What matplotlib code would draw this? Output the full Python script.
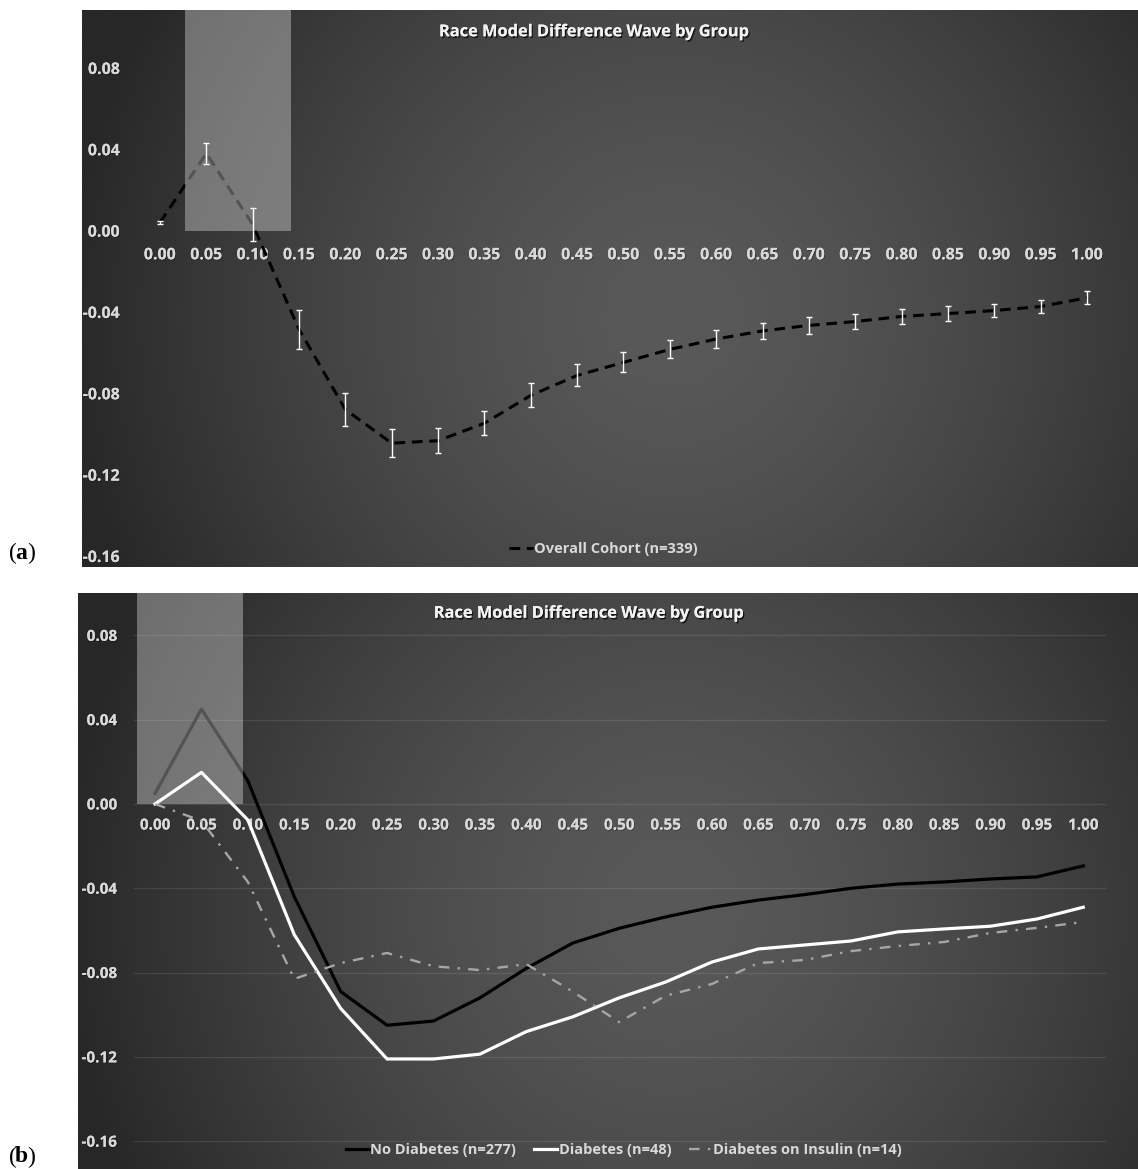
import numpy as np
import matplotlib
matplotlib.use("Agg")
import matplotlib.pyplot as plt
import matplotlib.patheffects as pe
from matplotlib.patches import Rectangle

plt.rcParams['font.family'] = ['Open Sans', 'DejaVu Sans']

# quantile positions (category axis)
quantiles = [0.00, 0.05, 0.10, 0.15, 0.20, 0.25, 0.30, 0.35, 0.40, 0.45, 0.50,
             0.55, 0.60, 0.65, 0.70, 0.75, 0.80, 0.85, 0.90, 0.95, 1.00]
xlabels = ['%.2f' % q for q in quantiles]
yticks = [-0.16, -0.12, -0.08, -0.04, 0.00, 0.04, 0.08]

# panel (a) overall cohort
overall = [0.004, 0.038, 0.003, -0.0485, -0.088, -0.1045, -0.1033, -0.0947, -0.081, -0.0712, -0.0648,
           -0.0584, -0.0533, -0.0493, -0.0466, -0.0447, -0.0422, -0.0408, -0.0393, -0.0373, -0.033]
overall_err = [0.0005, 0.005, 0.0083, 0.0096, 0.0083, 0.0069, 0.0061, 0.0059, 0.0059, 0.0054, 0.0049,
               0.0044, 0.0042, 0.004, 0.0041, 0.0038, 0.0037, 0.0037, 0.0033, 0.0033, 0.0033]

# panel (b) by group
no_diab = [0.005, 0.045, 0.011, -0.044, -0.089, -0.105, -0.103, -0.092, -0.078, -0.066, -0.059,
           -0.0536, -0.049, -0.0456, -0.043, -0.040, -0.038, -0.037, -0.0356, -0.0346, -0.0294]
diab = [0.000, 0.015, -0.0076, -0.062, -0.097, -0.121, -0.121, -0.1187, -0.108, -0.101, -0.092,
        -0.0845, -0.075, -0.0688, -0.0669, -0.065, -0.0607, -0.0593, -0.058, -0.0546, -0.049]
insulin = [0.000, -0.008, -0.037, -0.083, -0.0755, -0.0707, -0.077, -0.0788, -0.076, -0.089, -0.1035,
           -0.091, -0.0854, -0.0755, -0.074, -0.0698, -0.0674, -0.0655, -0.0612, -0.0588, -0.056]

title = "Race Model Difference Wave by Group"
label_col = '#d9d9d9'
shadow = [pe.withSimplePatchShadow(offset=(1, -1.2), shadow_rgbFace='black', alpha=0.7), pe.Normal()]


def background(ax):
    # radial-ish grey gradient like the excel chart style
    nx, ny = 400, 300
    xx, yy = np.meshgrid(np.linspace(0, 1, nx), np.linspace(0, 1, ny))
    r = np.sqrt(((xx - 0.56) / 0.58) ** 2 + ((yy - 0.45) / 1.1) ** 2)
    r = np.clip(r, 0, 1)
    v = (0x59 - (0x59 - 0x27) * r ** 1.5) / 255.0
    img = np.dstack([v, v, v])
    ax.imshow(img, extent=(0, 1, 0, 1), transform=ax.transAxes, origin='lower',
              aspect='auto', zorder=0, interpolation='bilinear')


def style_axes(ax, xlim, ylim, label_size, ylab_pos, xpad):
    background(ax)
    ax.set_xlim(*xlim)
    ax.set_ylim(*ylim)
    for s in ax.spines.values():
        s.set_color('none')
    ax.spines['bottom'].set_position(('data', 0))
    ax.spines['left'].set_position(('axes', ylab_pos))
    ax.set_xticks(quantiles)
    ax.set_xticklabels(xlabels)
    ax.set_yticks(yticks)
    ax.set_yticklabels(['%.2f' % t for t in yticks])
    ax.tick_params(axis='x', length=0, pad=xpad, labelsize=label_size, labelcolor=label_col)
    ax.tick_params(axis='y', length=0, pad=0, labelsize=label_size, labelcolor=label_col)
    for t in ax.get_xticklabels() + ax.get_yticklabels():
        t.set_fontweight('bold')
        t.set_path_effects([pe.withSimplePatchShadow(offset=(0.6, -0.6), shadow_rgbFace='black', alpha=0.4), pe.Normal()])


fig = plt.figure(figsize=(11.38, 11.69), dpi=100)
fig.patch.set_facecolor('white')

# ---- panel a
ax1 = fig.add_axes([82 / 1138, 1 - 567 / 1169, 1056 / 1138, 557 / 1169])
style_axes(ax1, (-0.0841, 1.055), (-0.1654, 0.1085), 11.5, 38 / 1056, 12)
ax1.plot(quantiles, overall, color='black', lw=2.2, dashes=(3.5, 2.2), dash_capstyle='butt',
         zorder=3, label='Overall Cohort (n=339)')
ax1.errorbar(quantiles, overall, yerr=overall_err, fmt='none', ecolor='white', elinewidth=1,
             capsize=2.2, capthick=1, zorder=6)
hl_a = (0.027, 0.141)
ax1.add_patch(Rectangle((hl_a[0], 0), hl_a[1] - hl_a[0], 0.12, facecolor='white', alpha=0.33,
                        edgecolor='none', zorder=5))
ax1.text(0.485, 0.96, title, transform=ax1.transAxes, ha='center', va='center', fontsize=11.8,
         fontweight='bold', color='#f2f2f2', path_effects=shadow)
leg1 = ax1.legend(loc='center', bbox_to_anchor=(0.494, 0.032), frameon=False, handlelength=1.6,
                  handletextpad=0.1, fontsize=10.5)
for t in leg1.get_texts():
    t.set_color(label_col)
    t.set_fontweight('bold')

# ---- panel b
ax2 = fig.add_axes([78 / 1138, 0, 1060 / 1138, 576 / 1169])
style_axes(ax2, (-0.083, 1.059), (-0.1732, 0.1001), 11, 39 / 1060, 10.5)
ax2.hlines(yticks, -0.024, 1.024, color='white', alpha=0.1, lw=0.9, zorder=1)
ax2.plot(quantiles, no_diab, color='black', lw=2.3, zorder=3, label='No Diabetes (n=277)')
ax2.plot(quantiles, diab, color='white', lw=2.3, zorder=3, label='Diabetes (n=48)')
ax2.plot(quantiles, insulin, color='#a6a6a6', lw=1.7, dashes=(4.5, 3.5, 1, 3.5), zorder=3,
         label='Diabetes on Insulin (n=14)')
hl_b = (-0.019, 0.095)
ax2.add_patch(Rectangle((hl_b[0], 0), hl_b[1] - hl_b[0], 0.12, facecolor='white', alpha=0.33,
                        edgecolor='none', zorder=5))
ax2.text(0.482, 0.964, title, transform=ax2.transAxes, ha='center', va='center', fontsize=11.8,
         fontweight='bold', color='#f2f2f2', path_effects=shadow)
leg2 = ax2.legend(loc='center', bbox_to_anchor=(0.515, 0.033), frameon=False, ncol=3,
                  handlelength=1.6, handletextpad=0.1, columnspacing=1.2, fontsize=10.5)
for t in leg2.get_texts():
    t.set_color(label_col)
    t.set_fontweight('bold')

# panel letters
for ypix, letter in [(553, 'a'), (1157, 'b')]:
    yy = 1 - ypix / 1169
    fig.text(9 / 1138, yy, '(', fontsize=17, family='Liberation Serif', va='center')
    fig.text(15 / 1138, yy, letter, fontsize=17, family='Liberation Serif', fontweight='bold', va='center')
    fig.text(27 / 1138, yy, ')', fontsize=17, family='Liberation Serif', va='center')

fig.savefig('out.png', dpi=100, facecolor='white')
